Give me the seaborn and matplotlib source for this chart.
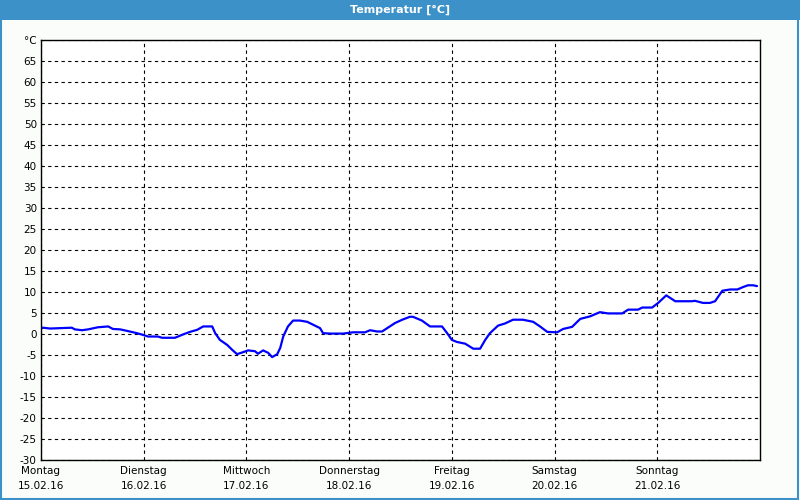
import numpy as np
import pandas as pd
import matplotlib
matplotlib.use("Agg")
import matplotlib.pyplot as plt
from matplotlib.patches import Rectangle
import seaborn as sns

# hours since Montag 00:00 and temperature in degC
hours = [0, 0.5, 2.1, 7.2, 7.9, 9.6, 11.0, 13.3, 15.7, 16.8, 18.5, 20.3, 22.4, 23.8,
         25.0, 27.3, 28.3, 31.3, 33.2, 34.8, 36.5, 37.9, 40.0, 40.7, 41.8, 43.5,
         44.6, 45.8, 47.0, 48.4, 50.0, 50.7, 51.9, 53.1, 54.0, 55.2, 55.9, 56.6,
         57.7, 58.9, 60.5, 62.2, 63.6, 65.2, 65.9, 67.5, 70.6, 72.9, 75.7, 76.9,
         78.5, 79.7, 80.9, 82.7, 84.4, 86.2, 86.9, 89.0, 90.9, 93.7, 94.9, 96.0,
         97.2, 99.1, 101.0, 102.6, 103.8, 104.9, 106.8, 108.4, 110.3, 112.6, 115.0,
         116.6, 118.3, 120.6, 122.0, 124.1, 126.0, 128.3, 130.6, 132.5, 135.8,
         137.2, 139.5, 140.5, 142.8, 144.2, 146.1, 148.2, 152.1, 152.8, 154.7,
         156.3, 157.5, 159.2, 161.0, 162.7, 164.1, 165.2, 166.4, 167.3]
temps = [1.3, 1.5, 1.3, 1.5, 1.1, 0.9, 1.1, 1.6, 1.8, 1.2, 1.1, 0.7, 0.2, -0.2,
         -0.6, -0.6, -0.9, -0.9, -0.1, 0.5, 1.0, 1.8, 1.8, 0.2, -1.4, -2.6,
         -3.7, -4.8, -4.4, -3.9, -4.1, -4.7, -3.9, -4.5, -5.5, -4.8, -3.3, -0.6,
         1.8, 3.2, 3.2, 2.9, 2.2, 1.4, 0.2, 0.1, 0.1, 0.4, 0.4, 0.9,
         0.6, 0.6, 1.4, 2.6, 3.4, 4.1, 4.1, 3.2, 1.8, 1.8, 0.2, -1.4,
         -1.9, -2.3, -3.5, -3.5, -1.4, 0.2, 2.0, 2.5, 3.4, 3.4, 2.9,
         1.8, 0.5, 0.4, 1.2, 1.7, 3.6, 4.2, 5.2, 4.9, 4.9,
         5.8, 5.8, 6.3, 6.3, 7.4, 9.2, 7.8, 7.8, 7.9, 7.4,
         7.4, 7.8, 10.3, 10.6, 10.6, 11.2, 11.6, 11.6, 11.4]

day_names = ["Montag", "Dienstag", "Mittwoch", "Donnerstag", "Freitag", "Samstag", "Sonntag"]
day_dates = ["15.02.16", "16.02.16", "17.02.16", "18.02.16", "19.02.16", "20.02.16", "21.02.16"]
y_ticks = list(range(-30, 75, 5))

df = pd.DataFrame({"Stunde": hours, "Temperatur": temps})

sns.set_style("white")
plt.rcParams["font.family"] = ["DejaVu Sans"]

fig = plt.figure(figsize=(8, 5), dpi=100, facecolor="#fbfdfb")
ax = fig.add_axes([41 / 800, 1 - 460 / 500, (760 - 41) / 800, 420 / 500])
ax.set_facecolor("white")

sns.lineplot(data=df, x="Stunde", y="Temperatur", ax=ax, color="#0000ff", linewidth=1.6)

ax.set_xlim(0, 168)
ax.set_ylim(-30, 70)
ax.set_xticks([24 * i for i in range(7)])
ax.set_xticklabels([n + "\n" + d for n, d in zip(day_names, day_dates)], linespacing=1.7)
ax.set_yticks(y_ticks)
ax.set_yticklabels(["°C" if v == 70 else str(v) for v in y_ticks])
ax.tick_params(axis="both", length=0, labelsize=7.5, colors="black")
ax.tick_params(axis="x", pad=4)
ax.tick_params(axis="y", pad=3)
ax.set_xlabel("")
ax.set_ylabel("")
ax.grid(True, color="black", linestyle=(0, (3, 3)), linewidth=0.8)
for s in ax.spines.values():
    s.set_color("black")
    s.set_linewidth(1.0)

# title bar and window frame
fig.patches.append(Rectangle((0, 1 - 20 / 500), 1, 20 / 500, transform=fig.transFigure,
                             facecolor="#3c91c9", edgecolor="none", zorder=0))
fig.patches.append(Rectangle((0.001, 0.003), 0.997, 0.995, transform=fig.transFigure,
                             facecolor="none", edgecolor="#3c91c9", linewidth=1.5, zorder=5))
fig.text(0.5, 1 - 10 / 500, "Temperatur [°C]", color="white", fontsize=8,
         fontweight="bold", ha="center", va="center")

fig.savefig("out.png", dpi=100, facecolor=fig.get_facecolor())
